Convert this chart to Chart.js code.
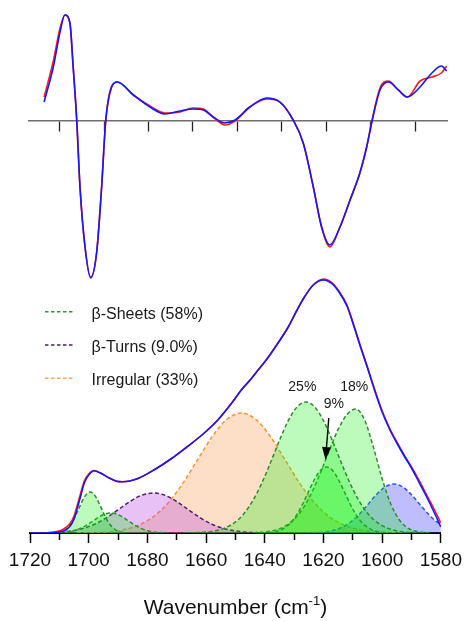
<!DOCTYPE html>
<html>
<head>
<meta charset="utf-8">
<script src="https://cdn.jsdelivr.net/npm/chart.js@4.4.1/dist/chart.umd.min.js"></script>
<style>
  html, body { margin: 0; padding: 0; background: #fff; }
  #wrap { position: relative; width: 468px; height: 621px; }
  #topCanvas { position: absolute; left: 0; top: 0; }
  #bottomCanvas { position: absolute; left: 0; top: 270px; }
</style>
</head>
<body>
<div id="wrap">
  <canvas id="topCanvas" width="468" height="290"></canvas>
  <canvas id="bottomCanvas" width="468" height="351"></canvas>
</div>
<script>
// ---- top panel: second derivative (measured red, fitted blue)
const derivWn = [1715.2, 1712.1, 1709.9, 1708.2, 1706.5, 1705.4, 1704.2, 1703.1, 1701.4, 1699.5, 1697.5, 1695.8, 1694.4, 1692.4, 1690.5, 1685.1, 1679.5, 1674.5, 1669.4, 1664.9, 1661.5, 1658.2, 1654.2, 1650.8, 1645.8, 1640.1, 1635.7, 1631.2, 1627.8, 1624.4, 1621.6, 1618.8, 1615.4, 1612, 1608.7, 1606.4, 1604.5, 1601.9, 1599.1, 1595.7, 1592.7, 1588.4, 1584.4, 1581.2, 1579.4];
const derivFit = [19, 54, 88, 106, 98, 54, 1, -66, -126, -157, -132, -66, 1, 34, 39, 26, 14, 7, 10, 12, 11, 4, -2, 1, 14, 23, 19, 1, -22, -66, -106, -124, -106, -79, -52, -26, 1, 31, 39, 31, 24, 34, 48, 55, 50];
const derivRaw = [24, 60, 92, 106, 98, 54, 1, -66, -126, -156, -132, -66, 1, 35, 39, 26, 15, 8, 9, 13, 12, 4, -4, 0, 14, 22, 19, 1, -22, -66, -106, -126, -106, -79, -52, -26, 2, 33, 40, 31, 24, 40, 44, 48, 55];
const topTicks = [1710, 1695, 1680, 1665, 1650, 1635, 1620, 1605, 1590];

// ---- bottom panel: amide I band and fitted components
const envWn = [1720, 1714, 1711, 1708.8, 1706.5, 1705, 1703.1, 1701.5, 1700, 1698.1, 1696, 1693, 1690.5, 1688.5, 1686, 1683, 1677.5, 1672, 1667, 1661, 1656, 1651, 1648, 1645, 1642, 1639, 1635.5, 1632, 1629, 1626.5, 1623.5, 1620, 1617, 1614.5, 1612, 1610, 1607.5, 1605, 1602.5, 1600, 1597.5, 1595, 1592.5, 1590, 1587.5, 1585, 1582.5, 1580];
const envFit = [0, 0, 0.6, 1.7, 6.3, 14, 33, 50, 58, 62.3, 60, 55, 51.8, 51.3, 52, 54.7, 63.5, 74, 85, 99, 113, 131, 143, 153, 164, 175, 190, 206, 223, 236, 248, 253, 249, 240, 227, 210, 187, 165, 142, 121, 104, 90, 77, 65, 51, 37, 22, 6];
const envRaw = [0, 0.3, 1.5, 3.5, 9, 17, 36, 52, 59, 62.5, 60, 55, 51.8, 51.3, 52, 54.7, 63.5, 74, 85, 99, 113, 131, 143, 153, 164, 175, 190, 206, 223, 236, 248, 254, 250, 241, 228, 211, 188, 166, 143, 122, 105, 91, 78, 66, 53, 39, 25, 10];

const sheet1700Wn = [1712.5, 1709.5, 1707.5, 1705.5, 1704, 1702.5, 1701, 1699.5, 1698, 1696.5, 1695, 1693.5, 1691.5, 1689.5, 1686.5];
const sheet1700 = [0.1, 1.3, 4.5, 11.8, 20.3, 30, 37.9, 41, 37.9, 30, 20.3, 11.8, 4.5, 1.3, 0.1];

const sheet1692Wn = [1712.5, 1708.5, 1705.5, 1702.5, 1700.5, 1698.5, 1696.5, 1694.5, 1692.5, 1690.5, 1688.5, 1686.5, 1684.5, 1682.5, 1679.5, 1676.5, 1672.5];
const sheet1692 = [0.1, 0.6, 1.9, 5, 8.2, 12.1, 16, 18.9, 20, 18.9, 16, 12.1, 8.2, 5, 1.9, 0.6, 0.1];

const turnWn = [1714, 1708, 1703, 1698, 1694, 1690, 1686, 1682, 1678, 1674, 1670, 1666, 1662, 1658, 1653, 1648, 1642, 1636];
const turn = [0.3, 1.3, 3.8, 8.8, 15.2, 23.2, 31.4, 37.7, 40, 37.7, 31.4, 23.2, 15.2, 8.8, 3.8, 1.3, 0.3, 0.05];

const irregularWn = [1704, 1698, 1693, 1688, 1683, 1678, 1673, 1668, 1663, 1658, 1653, 1648, 1643, 1638, 1633, 1628, 1623, 1618, 1613, 1608, 1603, 1598, 1592];
const irregular = [0.1, 0.5, 1.3, 3.4, 7.9, 16.2, 29.9, 49.3, 72.8, 96.1, 113.5, 120, 113.5, 96.1, 72.8, 49.3, 29.9, 16.2, 7.9, 3.4, 1.3, 0.5, 0.1];

const sheet1626Wn = [1668, 1663, 1658, 1654, 1650, 1647, 1644, 1641, 1638, 1635, 1632, 1629, 1626, 1623, 1620, 1617, 1614, 1611, 1608, 1605, 1602, 1598, 1594, 1589, 1584];
const sheet1626 = [0.07, 0.4, 1.6, 4.6, 11.1, 19.8, 32.7, 50, 70.7, 92.6, 112.3, 126, 131, 126, 112.3, 92.6, 70.7, 50, 32.7, 19.8, 11.1, 4.6, 1.6, 0.4, 0.07];

const sheet1619Wn = [1641, 1637, 1634, 1631, 1629, 1627, 1625, 1623, 1621, 1619, 1617, 1615, 1613, 1611, 1609, 1607, 1604, 1601, 1597];
const sheet1619 = [0.15, 1.1, 3.9, 10.8, 18.7, 29.5, 42, 53.9, 62.8, 66, 62.8, 53.9, 42, 29.5, 18.7, 10.8, 3.9, 1.1, 0.15];

const sheet1609Wn = [1644, 1639, 1634, 1630, 1627, 1624, 1621, 1618, 1615, 1612, 1609, 1606, 1603, 1600, 1597, 1594, 1591, 1588, 1584];
const sheet1609 = [0.3, 1.4, 5.4, 13.6, 24.5, 40.3, 60.4, 82.7, 103.6, 118.5, 124, 113.1, 85.9, 54.2, 28.5, 12.5, 4.5, 1.4, 0.2];

const band1596Wn = [1626, 1622, 1618, 1614, 1611, 1608, 1605, 1602, 1599, 1596, 1593, 1590, 1587, 1584, 1581, 1578];
const band1596 = [0.1, 0.5, 1.7, 5.2, 10.3, 18.1, 28, 38.2, 46.1, 49, 46.1, 38.2, 28, 18.1, 10.3, 5.2];

const majorTicks = [1720, 1700, 1680, 1660, 1640, 1620, 1600, 1580];
const minorTicks = [1710, 1690, 1670, 1650, 1630, 1610, 1590];

const legendLabels = ['β-Sheets (58%)', 'β-Turns (9.0%)', 'Irregular (33%)'];
const legendColors = ['#2e9a2e', '#4b1f6f', '#f8a65a'];

const peakLabels = ['25%', '9%', '18%'];
const peakLabelWn = [1627.2, 1616.5, 1609.5];
const peakLabelVal = [146, 129, 146];

const FONT = '"Liberation Sans", Arial, sans-serif';

function pts(xs, ys) {
  return xs.map((x, i) => ({x: x, y: ys[i]}));
}

function curve(data, color, width, order) {
  return {
    data: data,
    borderColor: color,
    borderWidth: width,
    pointRadius: 0,
    fill: false,
    cubicInterpolationMode: 'monotone',
    order: order
  };
}

function band(data, line, fillColor, order) {
  return {
    data: data,
    borderColor: line,
    backgroundColor: fillColor,
    borderWidth: 1.5,
    borderDash: [4, 2.5],
    pointRadius: 0,
    fill: 'origin',
    cubicInterpolationMode: 'monotone',
    order: order
  };
}

// ---- top chart
new Chart(document.getElementById('topCanvas'), {
    type: 'line',
    data: {
        datasets: [
            curve(pts(derivWn, derivFit), '#1515ff', 1.6, 0),
            curve(pts(derivWn, derivRaw), '#ff1a1a', 1.6, 1)
        ]
    },
    options: {
        responsive: false,
        animation: false,
        layout: {padding: {left: 29, right: 21, top: 5, bottom: 10}},
        plugins: {legend: {display: false}, tooltip: {enabled: false}},
        scales: {
            x: {
                type: 'linear',
                reverse: true,
                min: 1579.3,
                max: 1720.3,
                position: {y: 0},
                afterBuildTicks: s => { s.ticks = topTicks.map(v => ({value: v})); },
                afterFit: s => { s.height = 0; },
                border: {display: true, color: '#6e6e6e', width: 1.5},
                grid: {drawOnChartArea: false, drawTicks: true, tickLength: 10, color: '#222', tickWidth: 1.3},
                ticks: {display: false}
            },
            y: {
                display: false,
                min: -159,
                max: 116
            }
        }
    }
});

// ---- bottom chart overlays: legend, peak labels, arrow, axis title
const overlayPlugin = {
    id: 'overlay',
    afterDraw(chart) {
        const {ctx, chartArea, scales: {x, y}} = chart;
        ctx.save();

        // legend
        ctx.font = '16px ' + FONT;
        ctx.textBaseline = 'middle';
        ctx.textAlign = 'left';
        legendLabels.forEach((label, i) => {
            const ly = chartArea.top + 36.7 + i * 33.3;
            ctx.strokeStyle = legendColors[i];
            ctx.lineWidth = 1.4;
            ctx.setLineDash([3.5, 2.5]);
            ctx.beginPath();
            ctx.moveTo(45, ly);
            ctx.lineTo(75, ly);
            ctx.stroke();
            ctx.setLineDash([]);
            ctx.fillStyle = '#1a1a1a';
            ctx.fillText(label, 91.5, ly + 2.5);
        });

        // peak percentage labels
        ctx.font = '14px ' + FONT;
        ctx.textAlign = 'center';
        ctx.fillStyle = '#1a1a1a';
        peakLabels.forEach((t, i) => {
            ctx.fillText(t, x.getPixelForValue(peakLabelWn[i]), y.getPixelForValue(peakLabelVal[i]));
        });

        // arrow pointing at the 9% band
        const x1 = x.getPixelForValue(1618.2), y1 = y.getPixelForValue(115);
        const x2 = x.getPixelForValue(1619.3), y2 = y.getPixelForValue(73);
        const ang = Math.atan2(y2 - y1, x2 - x1);
        const headLen = 13, headHalf = 4.5;
        const bx = x2 - headLen * Math.cos(ang), by = y2 - headLen * Math.sin(ang);
        ctx.strokeStyle = '#000';
        ctx.lineWidth = 1.4;
        ctx.beginPath();
        ctx.moveTo(x1, y1);
        ctx.lineTo(bx, by);
        ctx.stroke();
        ctx.fillStyle = '#000';
        ctx.beginPath();
        ctx.moveTo(x2, y2);
        ctx.lineTo(bx + headHalf * Math.sin(ang), by - headHalf * Math.cos(ang));
        ctx.lineTo(bx - headHalf * Math.sin(ang), by + headHalf * Math.cos(ang));
        ctx.closePath();
        ctx.fill();

        // axis title with superscript
        const main = 'Wavenumber (cm', sup = '-1', tail = ')';
        ctx.font = '21px ' + FONT;
        const wMain = ctx.measureText(main).width, wTail = ctx.measureText(tail).width;
        ctx.font = '13px ' + FONT;
        const wSup = ctx.measureText(sup).width;
        const cx = (chartArea.left + chartArea.right) / 2;
        const ty = 337;
        let tx = cx - (wMain + wSup + wTail) / 2;
        ctx.textAlign = 'left';
        ctx.textBaseline = 'alphabetic';
        ctx.fillStyle = '#111';
        ctx.font = '21px ' + FONT;
        ctx.fillText(main, tx, ty + 7);
        tx += wMain;
        ctx.font = '13px ' + FONT;
        ctx.fillText(sup, tx, ty - 2);
        tx += wSup;
        ctx.font = '21px ' + FONT;
        ctx.fillText(tail, tx, ty + 7);

        ctx.restore();
    }
};

// ---- bottom chart
const GREEN_LINE = '#2e8b2e';
const GREEN_FILL = 'rgba(0, 240, 0, 0.26)';

new Chart(document.getElementById('bottomCanvas'), {
    type: 'line',
    data: {
        datasets: [
            curve(pts(envWn, envFit), '#1515ff', 1.6, 0),
            curve(pts(envWn, envRaw), '#ff1a1a', 1.6, 1),
            band(pts(sheet1700Wn, sheet1700), GREEN_LINE, GREEN_FILL, 2),
            band(pts(sheet1692Wn, sheet1692), GREEN_LINE, GREEN_FILL, 3),
            band(pts(sheet1626Wn, sheet1626), GREEN_LINE, GREEN_FILL, 4),
            band(pts(sheet1619Wn, sheet1619), GREEN_LINE, GREEN_FILL, 5),
            band(pts(sheet1609Wn, sheet1609), GREEN_LINE, GREEN_FILL, 6),
            band(pts(band1596Wn, band1596), '#2f4fff', 'rgba(70, 70, 255, 0.35)', 7),
            band(pts(turnWn, turn), '#4b1f6f', 'rgba(190, 80, 230, 0.35)', 8),
            band(pts(irregularWn, irregular), '#f79530', 'rgba(247, 150, 70, 0.3)', 9)
        ]
    },
    options: {
        responsive: false,
        animation: false,
        layout: {padding: {left: 30, right: 23, top: 5, bottom: 0}},
        plugins: {legend: {display: false}, tooltip: {enabled: false}},
        scales: {
            x: {
                type: 'linear',
                reverse: true,
                min: 1580,
                max: 1720,
                position: 'bottom',
                afterBuildTicks: s => { s.ticks = majorTicks.map(v => ({value: v})); },
                afterFit: s => { s.height = 88; },
                border: {display: true, color: '#000', width: 2},
                grid: {drawOnChartArea: false, tickLength: 10, color: '#000', tickWidth: 1.5},
                ticks: {
                    font: {size: 19, family: FONT},
                    color: '#111',
                    padding: 6,
                    maxRotation: 0,
                    autoSkip: false,
                    callback: v => String(v)
                }
            },
            xMinor: {
                type: 'linear',
                reverse: true,
                min: 1580,
                max: 1720,
                position: {y: 0},
                afterBuildTicks: s => { s.ticks = minorTicks.map(v => ({value: v})); },
                afterFit: s => { s.height = 0; },
                border: {display: false},
                grid: {drawOnChartArea: false, tickLength: 7, color: '#000', tickWidth: 1.5},
                ticks: {display: false}
            },
            y: {
                display: false,
                min: 0,
                max: 258
            }
        }
    },
    plugins: [overlayPlugin]
});
</script>
</body>
</html>
